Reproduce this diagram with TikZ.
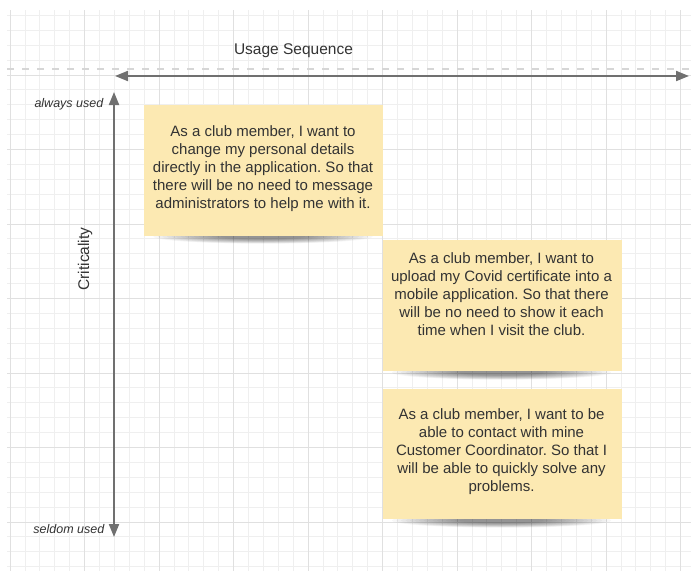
\documentclass[tikz,border=0pt]{standalone}
\usepackage{fontspec}
\setmainfont{Liberation Sans}
\usetikzlibrary{arrows.meta}
\definecolor{notefill}{RGB}{252,233,178}
\definecolor{gridminor}{RGB}{239,239,239}
\definecolor{gridmajor}{RGB}{224,224,224}
\definecolor{axisgray}{RGB}{112,112,112}
\definecolor{dashgray}{RGB}{214,214,214}
\definecolor{inktext}{RGB}{51,51,51}
\frenchspacing

\begin{document}
\begin{tikzpicture}[x=1pt,y=-1pt,
  notebox/.style={fill=notefill, draw=none, minimum width=239pt, minimum height=131pt, inner sep=0pt, anchor=north west},
  notetext/.style={text=inktext, align=center, font=\fontsize{15}{18}\selectfont, inner sep=0pt},
  axislabel/.style={text=inktext, font=\fontsize{15.5}{18}\selectfont, inner sep=0pt},
  endlabel/.style={text=inktext, font=\fontsize{12.5}{14}\selectfont\itshape, inner sep=0pt, anchor=east},
  axisarrow/.style={draw=axisgray, line width=2pt, {Triangle[length=13pt,width=10pt]}-{Triangle[length=13pt,width=10pt]}},
  minorline/.style={draw=gridminor, line width=0.9pt},
  majorline/.style={draw=gridmajor, line width=0.9pt}
]
% page
\fill[white] (0,0) rectangle (691,573);
\useasboundingbox (0,0) rectangle (691,573);

% grid paper
\foreach \k in {0,...,45} {
  \pgfmathsetmacro\gx{10.1+14.9*\k}
  \draw[minorline] (\gx,10) -- (\gx,571);
}
\foreach \j in {1,...,38} {
  \pgfmathsetmacro\gy{0.5+14.9*\j}
  \draw[minorline] (7,\gy) -- (691,\gy);
}
\foreach \k in {0,5,...,45} {
  \pgfmathsetmacro\gx{10.1+14.9*\k}
  \draw[majorline] (\gx,10) -- (\gx,571);
}
\foreach \j in {5,10,...,35} {
  \pgfmathsetmacro\gy{0.5+14.9*\j}
  \draw[majorline] (7,\gy) -- (691,\gy);
}

% dashed guide line
\draw[dashgray, line width=2pt, dash pattern=on 7pt off 8pt] (7,69) -- (691,69);

% axes
\coordinate (hL) at (115,76);
\coordinate (hR) at (689,76);
\coordinate (vT) at (114,92);
\coordinate (vB) at (114,537);
\draw[axisarrow] (hL) -- (hR);
\draw[axisarrow] (vT) -- (vB);

\node[axislabel] (usage) at (293.5,51) {Usage Sequence};
\node[axislabel, rotate=90] (crit) at (85,259) {Criticality};
\node[endlabel] (always) at (103.5,104.5) {always used};
\node[endlabel] (seldom) at (104.5,529.5) {seldom used};

% sticky-note shadows: soft blurred bands under the bottom edges
\foreach \cx/\by in {263/235, 501.5/371, 501.5/519} {
  \foreach \i in {1,...,16} {
    \fill[black, opacity=0.03] (\cx,\by+1.5) ellipse ({114-4.5*\i} and {7.5-0.3*\i});
  }
}

% sticky notes
\node[notebox] (note1) at (144,105) {};
\node[notebox] (note2) at (382.5,239.5) {};
\node[notebox, minimum height=130pt] (note3) at (382.5,389) {};

\node[notetext] (text1) at (263,169) {As a club member, I want to\\change my personal details\\directly in the application. So that\\there will be no need to message\\administrators to help me with it.};
\node[notetext] (text2) at (501.5,294.5) {As a club member, I want to\\upload my Covid certificate into a\\mobile application. So that there\\will be no need to show it each\\time when I visit the club.};
\node[notetext] (text3) at (501.5,452) {As a club member, I want to be\\able to contact with mine\\Customer Coordinator. So that I\\will be able to quickly solve any\\problems.};
\end{tikzpicture}
\end{document}
